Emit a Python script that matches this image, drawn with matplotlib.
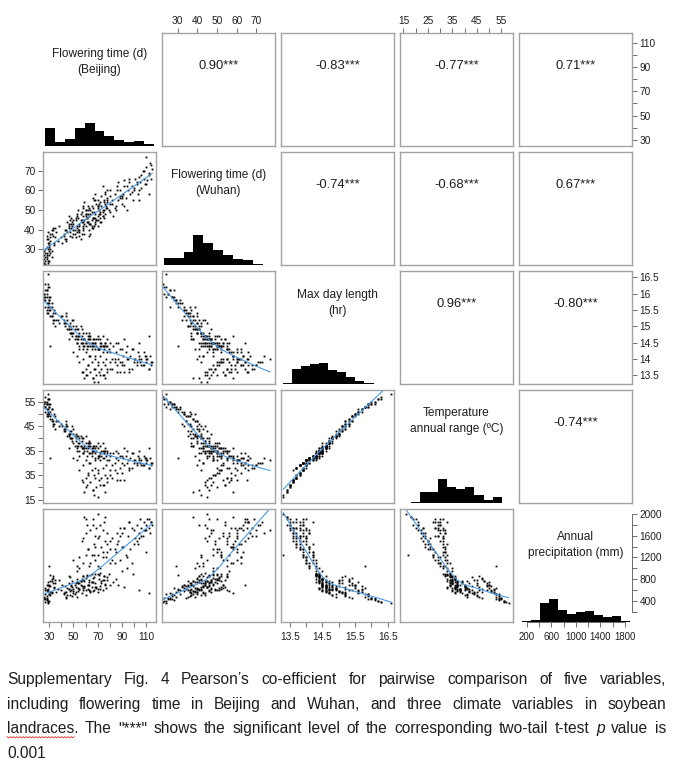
import numpy as np
import matplotlib
matplotlib.use("Agg")
import matplotlib.pyplot as plt
from matplotlib.lines import Line2D

FONT = ['Liberation Sans Narrow', 'Liberation Sans', 'DejaVu Sans']
plt.rcParams['font.family'] = FONT

# ---------------- data ----------------
var_labels = ["Flowering time (d)\n(Beijing)", "Flowering time (d)\n(Wuhan)",
              "Max day length\n(hr)", "Temperature\nannual range (ºC)",
              "Annual\nprecipitation (mm)"]

# Flowering time in Beijing (d)
fb = [27, 28, 29, 30, 28, 31, 27, 29, 32, 30, 33, 28, 26, 31, 29, 34, 27, 30, 32, 28, 33, 29, 31, 35, 26, 30, 36, 28,
      40, 42, 43, 44, 45, 46, 47, 48, 49, 50, 50, 51, 52, 53, 53, 54, 55, 55, 56, 57,
      58, 58, 59, 60, 60, 61, 62, 62, 63, 64, 65, 65, 66, 67, 68, 68, 69, 70, 71, 72,
      73, 74, 75, 76, 77, 78, 79, 80, 44, 47, 52, 57, 63, 46, 54, 59, 66, 41, 49, 56,
      55, 57, 58, 60, 61, 62, 63, 64, 65, 66, 67, 68, 69, 70, 71, 72, 73, 74, 75, 76,
      77, 78, 80, 82, 84, 86, 88, 59, 53, 67,
      85, 87, 88, 90, 91, 92, 93, 95, 96, 97, 98, 100, 101, 102, 103, 104, 105, 106, 107, 108,
      109, 110, 111, 112, 113, 114, 115, 110, 94, 99,
      50, 55, 60, 65, 70, 75, 80, 85, 90, 58, 63, 72, 78, 46, 68, 83, 53, 92, 87, 74, 104, 112,
      26, 27, 28, 29, 30, 31, 32, 33, 34, 27, 28, 29, 30, 31, 32, 35, 37, 38, 26, 29,
      42, 44, 46, 48, 50, 52, 54, 56, 58, 60, 62, 64, 66, 68, 70, 72, 74, 76, 78, 45,
      47, 49, 51, 53, 55, 57, 59, 61, 63, 65, 67, 69, 71, 73, 75, 43, 48, 58, 64, 70,
      58, 62, 66, 70, 74, 78, 82, 86, 90, 94, 98, 102, 106, 110, 114, 60, 68, 76, 84, 92,
      100, 108, 64, 72, 80, 88, 96, 104, 112, 70]
# Flowering time in Wuhan (d)
fw = [24, 26, 30, 33, 25, 36, 28, 23, 38, 27, 40, 31, 25, 34, 39, 32, 22.5, 29, 26, 35, 37, 24, 30, 41, 27, 32, 39, 28,
      36, 38, 35, 40, 39, 42, 37, 41, 44, 40, 43, 38, 45, 42, 39, 46, 43, 40, 48, 44,
      41, 47, 45, 50, 42, 46, 44, 52, 47, 43, 49, 45, 51, 46, 48, 44, 53, 47, 50, 46,
      52, 49, 55, 48, 51, 54, 50, 53, 34, 45, 36, 38, 40, 47, 50, 54, 56, 33, 36, 35,
      42, 45, 40, 47, 44, 50, 43, 48, 52, 46, 49, 55, 45, 51, 53, 48, 57, 50, 54, 59,
      52, 56, 60, 55, 58, 62, 57, 38, 41, 42,
      52, 55, 60, 53, 58, 62, 56, 60, 64, 58, 62, 60, 66, 63, 58, 67, 64, 61, 70, 66,
      63, 72, 65, 68, 74, 66, 71, 77, 50, 55,
      45, 39, 48, 42, 55, 46, 57, 50, 56, 51, 37, 44, 60, 43, 58, 47, 48, 52, 64, 62, 55, 58,
      23, 30, 27, 35, 24, 38, 29, 41, 33, 26, 37, 22, 31, 28, 40, 36, 34, 42, 29, 33,
      37, 35, 41, 43, 38, 46, 40, 45, 42, 48, 44, 50, 46, 43, 52, 49, 47, 53, 51, 44,
      39, 42, 40, 47, 37, 49, 43, 46, 51, 41, 55, 45, 48, 44, 50, 40, 46, 52, 38, 42,
      44, 48, 41, 52, 47, 55, 53, 60, 57, 62, 59, 64, 68, 63, 73, 50, 46, 58, 51, 65,
      61, 70, 43, 54, 49, 56, 66, 60, 69, 45]
# Max day length (hr)
dl = [15.9, 16.1, 15.7, 15.5, 16.0, 15.6, 15.8, 16.2, 15.3, 15.9, 15.4, 15.7, 16.0, 15.5, 15.6, 15.2,
      16.3, 15.8, 15.6, 15.4, 15.1, 16.6, 14.4, 15.0, 15.9, 15.7, 15.2, 16.1,
      15.3, 15.2, 15.0, 15.1, 14.9, 15.0, 14.8, 14.9, 14.7, 14.8, 15.2, 14.6, 14.7, 14.5, 14.9, 14.6, 14.4, 14.8, 14.5, 14.7,
      14.3, 14.6, 14.4, 14.5, 14.8, 14.3, 14.6, 14.4, 14.5, 14.7, 14.3, 14.5, 14.4, 14.6, 14.3, 14.5, 14.4, 14.6, 14.3, 14.5,
      14.4, 14.7, 14.3, 14.5, 14.4, 14.6, 14.3, 14.5, 15.4, 15.1, 15.0, 14.9, 14.8, 14.9, 14.7, 14.6, 14.5, 15.3, 15.2, 15.0,
      13.9, 13.6, 14.0, 13.7, 13.5, 13.8, 14.1, 13.6, 13.9, 13.4, 13.7, 14.0, 13.5, 13.8, 13.6, 14.1, 13.7, 13.9, 13.5, 13.8,
      14.0, 13.6, 13.9, 13.7, 14.0, 13.8, 13.6, 13.4, 14.1, 13.3,
      14.2, 14.0, 14.3, 13.9, 14.1, 13.8, 14.2, 14.0, 13.7, 14.1, 14.3, 13.9, 14.0, 13.8, 14.2, 14.1, 13.9, 14.0, 13.8, 14.2,
      14.1, 13.9, 14.0, 13.7, 14.1, 13.8, 13.9, 14.0, 14.4, 14.3,
      14.2, 14.3, 14.2, 14.4, 14.3, 14.4, 14.2, 14.5, 14.3, 14.5, 14.6, 14.4, 14.2, 14.6, 14.1, 14.4, 14.5, 14.6, 14.5, 14.2,
      14.5, 14.7,
      16.0, 15.6, 15.9, 15.4, 16.2, 15.3, 15.7, 15.2, 15.5, 16.1, 15.5, 16.3, 15.8, 15.9, 15.3, 15.4, 15.2, 15.1, 15.8, 15.6,
      15.1, 15.3, 14.9, 14.8, 15.0, 14.7, 14.9, 14.6, 14.8, 14.5, 14.7, 14.4, 14.6, 14.5, 14.3, 14.6, 14.4, 14.5, 14.4, 15.2,
      15.0, 14.8, 14.9, 14.6, 14.7, 14.5, 14.6, 14.4, 14.7, 14.5, 14.4, 14.6, 14.3, 14.5, 14.4, 15.1, 14.8, 14.4, 14.6, 14.7,
      13.6, 13.8, 13.4, 13.9, 13.5, 13.7, 14.0, 13.6, 13.8, 14.0, 13.7, 13.9, 13.8, 14.1, 13.9, 13.5, 13.7, 13.4, 13.9, 13.6,
      14.0, 13.8, 14.1, 13.5, 13.7, 13.9, 13.6, 14.0, 13.7, 13.3]
# Temperature annual range (ºC)
tr = [53, 55, 52, 50, 54, 51, 53, 56, 48, 54, 47, 52, 55, 49, 50, 46, 57, 53, 52, 49, 45, 58, 32, 44, 53, 51, 47, 54,
      46, 44, 43, 45, 41, 42, 40, 43, 39, 38, 44, 37, 40, 36, 41, 38, 35, 40, 37, 39,
      34, 36, 35, 38, 41, 33, 37, 36, 34, 38, 35, 33, 36, 37, 32, 34, 35, 36, 33, 34,
      33, 38, 32, 35, 33, 35, 31, 34, 47, 43, 42, 40, 39, 42, 37, 36, 35, 45, 45, 41,
      27, 23, 29, 24, 21, 26, 30, 22, 27, 19, 25, 28, 20, 26, 23, 31, 24, 28, 21, 25,
      29, 22, 27, 24, 30, 26, 23, 18, 31, 17,
      32, 31, 33, 30, 32, 29, 33, 31, 28, 32, 34, 30, 31, 29, 33, 32, 30, 31, 29, 33,
      32, 30, 31, 28, 32, 29, 30, 31, 35, 34,
      32, 33, 31, 34, 32, 35, 33, 35, 33, 36, 37, 34, 31, 36, 31, 34, 35, 36, 34, 32, 35, 36,
      54, 51, 54, 49, 56, 48, 52, 46, 50, 55, 50, 56, 53, 54, 47, 49, 47, 45, 53, 51,
      43, 46, 41, 40, 42, 39, 41, 37, 40, 36, 38, 34, 37, 36, 33, 37, 35, 36, 34, 45,
      42, 40, 41, 37, 38, 36, 37, 35, 38, 36, 35, 37, 33, 35, 34, 44, 40, 34, 37, 38,
      22, 25, 19, 27, 21, 24, 29, 23, 26, 30, 28, 30, 29, 32, 30, 20, 24, 18, 27, 23,
      31, 29, 30, 21, 25, 28, 27, 31, 28, 16]
# Annual precipitation (mm)
ap = [520, 460, 610, 700, 430, 560, 640, 400, 760, 530, 820, 590, 450, 680, 740, 650, 370, 1050, 550, 600,
      720, 360, 880, 790, 430, 670, 560, 420,
      600, 520, 680, 560, 640, 720, 500, 590, 760, 620, 540, 700, 650, 800, 470, 580, 730, 610, 690, 540,
      850, 640, 760, 590, 510, 880, 700, 620, 780, 560, 740, 660, 820, 600, 900, 720, 640, 560, 800, 680,
      760, 600, 860, 710, 640, 780, 900, 700, 450, 830, 560, 680, 740, 620, 720, 660, 580, 700, 480, 760,
      1200, 1500, 1100, 1650, 1800, 1350, 1050, 1700, 1250, 1900, 1450, 1150, 1750, 1550, 1600, 1000, 1400, 1300, 1850, 1500,
      1200, 1650, 1350, 1550, 1100, 1450, 1750, 1950, 1050, 1250,
      1300, 1500, 1150, 1650, 1400, 1750, 1250, 1600, 1850, 1350, 1100, 1700, 1550, 1800, 1450, 1650, 1900, 1750, 1600, 1850,
      1700, 1800, 1900, 1750, 1650, 1850, 1800, 1700, 1000, 900,
      1150, 1000, 1250, 900, 1050, 850, 1100, 800, 950, 780, 700, 920, 1300, 850, 1400, 750, 950, 650, 700, 1200, 600, 550,
      450, 600, 480, 700, 400, 760, 560, 850, 640, 430, 690, 380, 520, 500, 800, 720, 610, 780, 470, 580,
      540, 470, 620, 680, 580, 720, 640, 760, 600, 820, 690, 880, 740, 660, 900, 620, 780, 700, 840, 500,
      580, 660, 520, 740, 610, 800, 680, 860, 600, 750, 830, 650, 880, 720, 790, 560, 700, 860, 580, 620,
      1550, 1350, 1800, 1250, 1700, 1450, 1150, 1650, 1400, 1200, 1750, 1500, 1600, 1300, 1850, 1900, 1600, 1950, 1350, 1750,
      1450, 1700, 1100, 1800, 1500, 1600, 1850, 1550, 1900, 2000]

# histogram counts on the diagonal (equal-width bins between the given ranges)
fb_hist = [108, 24, 40, 108, 140, 90, 60, 38, 22, 30, 12]
fw_hist = [44, 44, 78, 180, 130, 88, 58, 36, 28, 6, 2]
dl_hist = [8, 92, 106, 122, 124, 86, 70, 40, 18, 4, 2, 2]
tr_hist = [2, 8, 64, 64, 144, 94, 84, 94, 50, 18, 38, 2]
ap_hist = [4, 12, 114, 138, 74, 46, 58, 68, 40, 32, 36, 4]
hist_ranges = [(26.6, 116.4), (22.8, 78.6), (13.28, 16.62), (14.3, 58.9), (114, 1882)]

# Pearson coefficients shown in the upper panels (row, col) -> r
corr = {(0, 1): 0.90, (0, 2): -0.83, (0, 3): -0.77, (0, 4): 0.71,
        (1, 2): -0.74, (1, 3): -0.68, (1, 4): 0.67,
        (2, 3): 0.96, (2, 4): -0.80,
        (3, 4): -0.74}

# axis ticks / labels
fb_ticks = [30, 40, 50, 60, 70, 80, 90, 100, 110]
fb_labels = ['30', '', '50', '', '70', '', '90', '', '110']
fw_ticks = [30, 40, 50, 60, 70]
fw_labels = ['30', '40', '50', '60', '70']
dl_ticks = [13.5, 14, 14.5, 15, 15.5, 16, 16.5]
dl_labels_right = ['13.5', '14', '14.5', '15', '15.5', '16', '16.5']
dl_labels_bottom = ['13.5', '', '14.5', '', '15.5', '', '16.5']
tr_ticks = [15, 20, 25, 30, 35, 40, 45, 50, 55]
tr_labels_top = ['15', '', '25', '', '35', '', '45', '', '55']
tr_labels_left = ['15', '', '35', '', '35', '', '45', '', '55']
ap_ticks_right = [200, 400, 600, 800, 1000, 1200, 1400, 1600, 1800, 2000]
ap_labels_right = ['', '400', '', '800', '', '1200', '', '1600', '', '2000']
ap_ticks_bottom = [200, 400, 600, 800, 1000, 1200, 1400, 1600, 1800]
ap_labels_bottom = ['200', '', '600', '', '1000', '', '1400', '', '1800']

# ---------------- layout ----------------
W, H = 673, 767
fig = plt.figure(figsize=(W / 100, H / 100), dpi=100)

data = [np.array(v, float) for v in (fb, fw, dl, tr, ap)]
n = len(fb)
assert all(len(d) == n for d in data)
hists = [fb_hist, fw_hist, dl_hist, tr_hist, ap_hist]

xlims = [(25, 118), (22, 79.5), (13.23, 16.69), (13.6, 59.8), (70, 1915)]
ylims = [(25, 118), (22, 79.5), (13.23, 16.69), (13.6, 59.8), (9, 2093)]
HMAX = 678

P0X, P0Y, STEP, SIZE = 43, 33, 119, 113
BOX = '#a3a3a3'
TICKC = '#555555'
LABC = '#1e1e1e'
LINEC = '#4a9be6'
TICK_FS = 7.3
SMOOTH_SPAN = 0.85


def lowess(x, y, f=2 / 3, iters=3):
    o = np.argsort(x, kind='mergesort')
    x = x[o]; y = y[o]
    m = len(x); r = int(np.ceil(f * m))
    d = np.abs(x[:, None] - x[None, :])
    h = np.sort(d, axis=1)[:, r - 1]
    w = np.clip(d / h[:, None], 0, 1)
    w = (1 - w ** 3) ** 3
    yest = np.zeros(m); delta = np.ones(m)
    for _ in range(iters + 1):
        for i in range(m):
            wt = delta * w[i]
            sw = wt.sum(); sx = (wt * x).sum(); sy = (wt * y).sum()
            sxx = (wt * x * x).sum(); sxy = (wt * x * y).sum()
            den = sw * sxx - sx * sx
            if abs(den) < 1e-12:
                yest[i] = sy / sw
            else:
                b = (sw * sxy - sx * sy) / den
                a = (sy - b * sx) / sw
                yest[i] = a + b * x[i]
        res = y - yest
        s = np.median(np.abs(res))
        delta = np.clip(res / (6 * s), -1, 1)
        delta = (1 - delta ** 2) ** 2
    return x, yest


def panel(r, c):
    left = P0X + STEP * c
    top = P0Y + STEP * r
    return fig.add_axes([left / W, 1 - (top + SIZE) / H, SIZE / W, SIZE / H])


def style_ticks(ax):
    ax.tick_params(direction='out', length=3.4, width=0.6, color=TICKC,
                   labelsize=TICK_FS, labelcolor=LABC, pad=2)


label_y = [0.745, 0.722, 0.718, 0.725, 0.685]

for r in range(5):
    for c in range(5):
        ax = panel(r, c)
        ax.set_xlim(*xlims[c])
        ax.set_xticks([]); ax.set_yticks([])
        style_ticks(ax)
        if r == c:
            for s in ax.spines.values():
                s.set_visible(False)
            lo, hi = hist_ranges[r]
            cnt = np.array(hists[r], float)
            edges = np.linspace(lo, hi, len(cnt) + 1)
            ax.stairs(cnt, edges, fill=True, color='black', lw=0)
            ax.set_ylim(0, HMAX)
            ax.text(0.5, label_y[r], var_labels[r], transform=ax.transAxes,
                    ha='center', va='center', fontsize=8.6, color=LABC,
                    linespacing=1.45)
        else:
            ax.set_ylim(*ylims[r])
            for s in ax.spines.values():
                s.set_color(BOX); s.set_linewidth(1.0)
            if r > c:
                x = data[c]; y = data[r]
                ax.plot(x, y, 's', ms=1.3, mew=0, color='black')
                lx, ly = lowess(x, y, f=SMOOTH_SPAN)
                ax.plot(lx, ly, color=LINEC, lw=0.8)
            else:
                ax.text(0.5, 0.705, f"{corr[(r, c)]:.2f}***", transform=ax.transAxes,
                        ha='center', va='center', fontsize=9.4, color=LABC)
        # outer axes
        if r == 0 and c == 1:
            ax.xaxis.set_ticks_position('top')
            ax.set_xticks(fw_ticks); ax.set_xticklabels(fw_labels)
        if r == 0 and c == 3:
            ax.xaxis.set_ticks_position('top')
            ax.set_xticks(tr_ticks); ax.set_xticklabels(tr_labels_top)
        if c == 0 and r == 1:
            ax.set_yticks(fw_ticks); ax.set_yticklabels(fw_labels)
        if c == 0 and r == 3:
            ax.set_yticks(tr_ticks); ax.set_yticklabels(tr_labels_left)
        if r == 4 and c == 0:
            ax.set_xticks(fb_ticks); ax.set_xticklabels(fb_labels)
            ax.tick_params(axis='x', pad=4)
        if r == 4 and c == 2:
            ax.set_xticks(dl_ticks); ax.set_xticklabels(dl_labels_bottom)
            ax.tick_params(axis='x', pad=4)
        if c == 4 and r == 0:
            ax.yaxis.set_ticks_position('right')
            ax.set_yticks(fb_ticks); ax.set_yticklabels(fb_labels)
        if c == 4 and r == 2:
            ax.yaxis.set_ticks_position('right')
            ax.set_yticks(dl_ticks); ax.set_yticklabels(dl_labels_right)
        if r == 4 and c == 4:
            ax.set_xticks(ap_ticks_bottom); ax.set_xticklabels(ap_labels_bottom)
            ax.tick_params(axis='x', pad=4, labelsize=6.9)
            ax.spines['bottom'].set_visible(True)
            ax.spines['bottom'].set_color(TICKC)
            ax.spines['bottom'].set_linewidth(0.6)
            ax.spines['bottom'].set_bounds(ap_ticks_bottom[0], ap_ticks_bottom[-1])
            tw = ax.twinx()
            tw.set_ylim(*ylims[4])
            for s in tw.spines.values():
                s.set_visible(False)
            tw.spines['right'].set_visible(True)
            tw.spines['right'].set_color(TICKC)
            tw.spines['right'].set_linewidth(0.6)
            tw.spines['right'].set_bounds(ap_ticks_right[0], ap_ticks_right[-1])
            style_ticks(tw)
            tw.set_yticks(ap_ticks_right); tw.set_yticklabels(ap_labels_right)

# ---------------- caption (justified) ----------------
cap_lines = [
    ["Supplementary", "Fig.", "4", "Pearson’s", "co-efficient", "for", "pairwise",
     "comparison", "of", "five", "variables,"],
    ["including", "flowering", "time", "in", "Beijing", "and", "Wuhan,", "and", "three",
     "climate", "variables", "in", "soybean"],
    ["landraces.", "The", "\"***\"", "shows", "the", "significant", "level", "of", "the",
     "corresponding", "two-tail", "t-test", "*p", "value", "is"],
    ["0.001"],
]
CAP_L, CAP_R = 7, 666
CAP_BASE0, CAP_PITCH = 684, 24.7
CAP_FS = 11.2
renderer = fig.canvas.get_renderer()
for i, words in enumerate(cap_lines):
    yb = CAP_BASE0 + CAP_PITCH * i
    texts = []
    for wd in words:
        italic = wd.startswith('*') and len(wd) > 1 and wd[1] != '*'
        s = wd[1:] if italic else wd
        t = fig.text(0, 1 - yb / H, s, fontsize=CAP_FS, ha='left', va='baseline',
                     color=LABC, fontstyle='italic' if italic else 'normal')
        texts.append(t)
    widths = [t.get_window_extent(renderer).width for t in texts]
    if i < len(cap_lines) - 1 and len(texts) > 1:
        gap = (CAP_R - CAP_L - sum(widths)) / (len(texts) - 1)
    else:
        gap = 4
    x = CAP_L
    for t, wdt in zip(texts, widths):
        t.set_x(x / W)
        x += wdt + gap
    if i == 2:
        tmp = fig.text(0, 0, "landraces", fontsize=CAP_FS)
        uw = tmp.get_window_extent(renderer).width
        tmp.remove()
        xs = np.arange(CAP_L, CAP_L + uw, 1.6)
        ys = yb + 3.2 + np.where(np.arange(len(xs)) % 2 == 0, 0.0, 1.3)
        fig.add_artist(Line2D(xs / W, 1 - ys / H, transform=fig.transFigure,
                              color='#e0302a', lw=0.6))

fig.savefig("out.png", dpi=100)
